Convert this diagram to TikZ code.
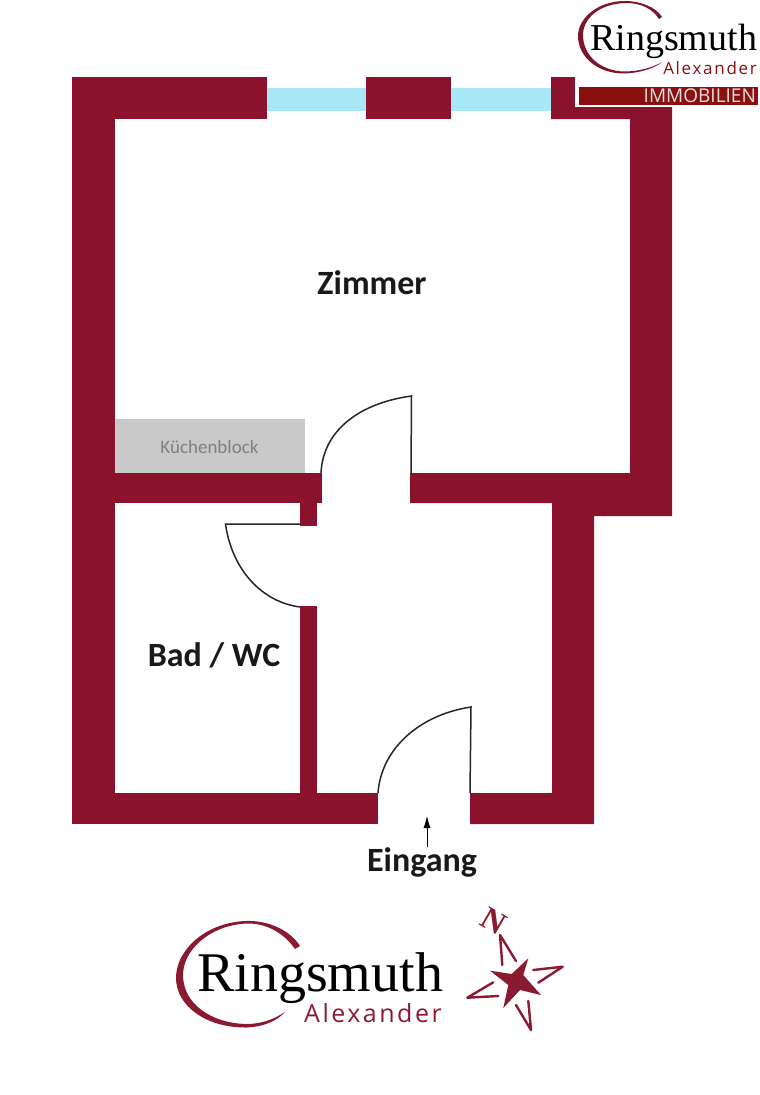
\documentclass[tikz,border=0pt]{standalone}
\usepackage{fontspec}
\usetikzlibrary{arrows.meta}
\setmainfont{Carlito}
\newfontfamily\logoserif{Liberation Serif}
\newfontfamily\logosans{Open Sans}
\newfontfamily\logowide[LetterSpace=10]{Open Sans}
\definecolor{wallred}{HTML}{8B122D}
\definecolor{swoosh}{HTML}{8A1A30}
\definecolor{barred}{HTML}{8A0F0F}
\definecolor{glass}{HTML}{A8E8F6}
\definecolor{kitchen}{HTML}{C9C9C9}
\definecolor{kitchentext}{HTML}{7F7F7F}
\tikzset{
  wall/.style={fill=wallred,draw=none},
  doorline/.style={draw=black!85,line width=1.5pt,line join=miter},
  roomlabel/.style={font=\bfseries\fontsize{34}{36}\selectfont,text=black!90,inner sep=0pt},
  compassarm/.style={draw=swoosh,line width=2.4pt,line join=round,line cap=round},
}
\begin{document}
\begin{tikzpicture}[x=1pt,y=-1pt]
\useasboundingbox (0,0) rectangle (760,1095);
% windows
\fill[glass] (267,88) rectangle (366,111);
\fill[glass] (451,88) rectangle (551,111);
% kitchen
\fill[kitchen] (115,419) rectangle (305,473);
% walls
\fill[wall] (72,77) rectangle (267,119);
\fill[wall] (366,77) rectangle (451,119);
\fill[wall] (551,77) -- (672,77) -- (672,516) -- (594,516) -- (594,824) -- (470,824) -- (470,793) -- (552,793) -- (552,503) -- (410,503) -- (410,473) -- (630,473) -- (630,119) -- (551,119) -- cycle;
\fill[wall] (72,77) rectangle (115,824);
\fill[wall] (72,793) rectangle (378,824);
\fill[wall] (115,473) rectangle (322,503);
\fill[wall] (300,503) rectangle (317,526);
\fill[wall] (300,606) rectangle (317,793);
% doors
\draw[doorline] (321,473) .. controls (323,430) and (360,403) .. (411.5,396) -- (411,473);
\draw[doorline] (300,607) .. controls (262,602) and (232,570) .. (225.5,524) -- (300,524);
\draw[doorline] (378,793) .. controls (381,750) and (418,715) .. (471,707) -- (470,793);
% labels
\node[roomlabel] (zimmer) at (372,283) {Zimmer};
\node[roomlabel] (bad) at (214,655) {Bad / WC};
\node[roomlabel] (eingang) at (422,862) {Eingang};
\node[inner sep=0pt,text=kitchentext,font=\fontsize{19}{21}\selectfont] (kueche) at (209.5,447) {Küchenblock};
\coordinate (entry) at (427,816);
\coordinate (entrytail) at (427,847);
\draw[-{Latex[length=12pt,width=7pt]},line width=0.8pt,black] (entrytail) -- (entry);
% top logo
\fill[white] (575,0) rectangle (760,107);
\fill[swoosh!90!black] (662,17) .. controls (656,7) and (640,1) .. (625,1) .. controls (598,1) and (578,18) .. (578,36) .. controls (578,57) and (598,74) .. (625,73.5) .. controls (638,73) and (654,69) .. (662,62) .. controls (652,68) and (638,71.5) .. (624,71.5) .. controls (600,71) and (583,55) .. (583,35) .. controls (583,18) and (600,3.5) .. (626,3) .. controls (640,3) and (652,8) .. (659,19) -- cycle;
\node[inner sep=0pt,anchor=base west,text=black,font=\logoserif\fontsize{38}{40}\selectfont] (topname) at (590,50) {Ringsmuth};
\node[inner sep=0pt,anchor=base east,text=barred,font=\logowide\fontsize{17}{19}\selectfont] (topfirst) at (757,74) {Alexander};
\fill[barred,draw=white,line width=0.7pt] (578,86) rectangle (758,105);
\node[inner sep=0pt,anchor=east,text=white!88!black,font=\logosans\fontsize{19}{21}\selectfont] (topimmo) at (756,96) {IMMOBILIEN};
% bottom logo
\fill[swoosh] (300,946) .. controls (290,930) and (268,920) .. (245,921) .. controls (205,923) and (176,950) .. (176,978) .. controls (176,1005) and (205,1028) .. (247,1027.5) .. controls (262,1027) and (278,1021) .. (285,1011.7) .. controls (275,1019) and (262,1024) .. (246,1024) .. controls (210,1023) and (183,1003) .. (183,975) .. controls (183,950) and (210,925) .. (247,923.5) .. controls (266,923) and (284,933) .. (295,949) -- cycle;
\node[inner sep=0pt,anchor=base west,text=black,font=\logoserif\fontsize{56}{58}\selectfont] (mainname) at (197,991) {Ringsmuth};
\node[inner sep=0pt,anchor=base east,text=swoosh,font=\logowide\fontsize{25}{27}\selectfont] (mainfirst) at (442,1022) {Alexander};
% compass
\fill[swoosh] (528.3,958.3) -- (523.3,975) -- (541,995) -- (520,990) -- (503.3,1008) -- (508.3,985) -- (490,970.7) -- (511.7,974) -- cycle;
\draw[compassarm] (502.3,965) -- (500,935) -- (516,961);
\draw[compassarm] (533.3,970) -- (562.7,966.7) -- (538.3,982.7);
\draw[compassarm] (516,1005) -- (531,1030) -- (528.3,1001);
\draw[compassarm] (493.3,982.3) -- (467.3,997.7) -- (498.3,996);
\node[inner sep=0pt,rotate=-30,text=swoosh,font=\logoserif\bfseries\fontsize{32}{34}\selectfont] (north) at (493.3,920.7) {N};
\end{tikzpicture}
\end{document}
